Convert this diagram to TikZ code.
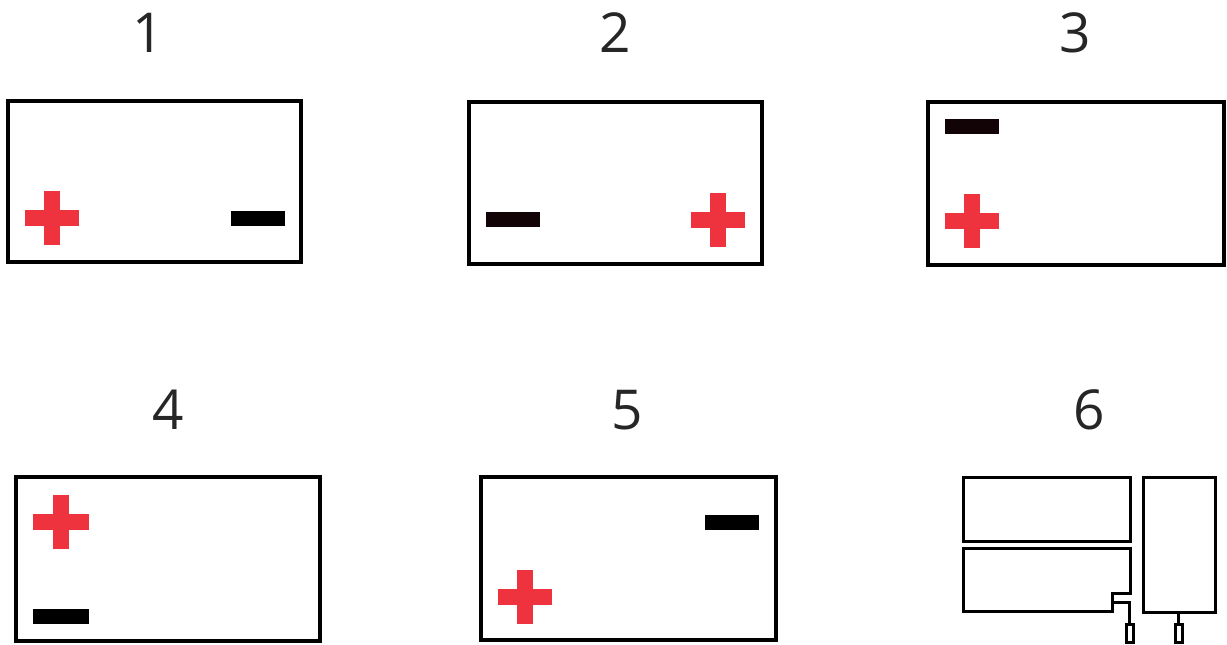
\documentclass[tikz,border=0pt]{standalone}
\usepackage{fontspec}
\setmainfont{Open Sans}
\definecolor{plusred}{HTML}{EE333E}
\definecolor{labelgrey}{HTML}{262626}
\definecolor{minusdark}{HTML}{120306}
\begin{document}
\begin{tikzpicture}[x=1pt,y=-1pt,
  box/.style={draw=black,line width=3.8pt,fill=white,inner sep=0pt,outer sep=0pt,rectangle},
  thinbox/.style={draw=black,line width=3pt,fill=white,inner sep=0pt,outer sep=0pt,rectangle},
  num/.style={font=\fontsize{55}{55}\selectfont,text=labelgrey,inner sep=0pt,anchor=center},
  plusv/.style={fill=plusred,inner sep=0pt,outer sep=0pt,minimum width=16pt,minimum height=54pt},
  plush/.style={fill=plusred,inner sep=0pt,outer sep=0pt,minimum width=54pt,minimum height=16pt},
  minus/.style={fill=#1,inner sep=0pt,outer sep=0pt,minimum width=54pt,minimum height=15pt},
  minus/.default=black,
  wire/.style={draw=black,line width=3pt,line join=miter}]
\useasboundingbox (0,0) rectangle (1227,645);
\fill[white] (0,0) rectangle (1227,645);
\node[num] (n1) at (148.5,33) {1};
\node[num] (n2) at (615,33) {2};
\node[num] (n3) at (1075,33) {3};
\node[num] (n4) at (168,410) {4};
\node[num] (n5) at (627,410) {5};
\node[num] (n6) at (1089,410) {6};
\node[box,minimum width=293pt,minimum height=161pt] (b1) at (154.5,181.5) {};
\node[box,minimum width=293pt,minimum height=162pt] (b2) at (615.5,183) {};
\node[box,minimum width=296pt,minimum height=163pt] (b3) at (1076,183.5) {};
\node[box,minimum width=304pt,minimum height=164pt] (b4) at (168,559) {};
\node[box,minimum width=295pt,minimum height=163pt] (b5) at (628.5,558.5) {};
\node[plusv] (p1v) at (52,218) {}; \node[plush] (p1h) at (52,218) {};
\node[plusv] (p2v) at (718,220) {}; \node[plush] (p2h) at (718,220) {};
\node[plusv] (p3v) at (972,221) {}; \node[plush] (p3h) at (972,221) {};
\node[plusv] (p4v) at (61,522) {}; \node[plush,minimum width=56pt] (p4h) at (61,522) {};
\node[plusv] (p5v) at (525,597) {}; \node[plush] (p5h) at (525,597) {};
\node[minus] (m1) at (258,218.5) {};
\node[minus=minusdark] (m2) at (513,219.5) {};
\node[minus=minusdark] (m3) at (972,126.5) {};
\node[minus,minimum width=56pt] (m4) at (61,616.5) {};
\node[minus] (m5) at (732,522) {};
\node[thinbox,minimum width=167pt,minimum height=64pt] (c1) at (1046.5,509) {};
\node[thinbox,minimum width=72pt,minimum height=135pt] (c3) at (1179,544.5) {};
\node[thinbox,minimum width=7pt,minimum height=18pt] (t1) at (1129.5,633) {};
\node[thinbox,minimum width=7pt,minimum height=18pt] (t2) at (1178.5,633) {};
\draw[wire] (963,548) -- (1130,548) -- (1130,593) -- (1112,593) -- (1112,611) -- (963,611) -- cycle;
\coordinate (j) at (1112,602);
\draw[wire] (j) -- (t1.north |- j) -- (t1.north);
\draw[wire] (c3.south -| t2.north) -- (t2.north);
\end{tikzpicture}
\end{document}
